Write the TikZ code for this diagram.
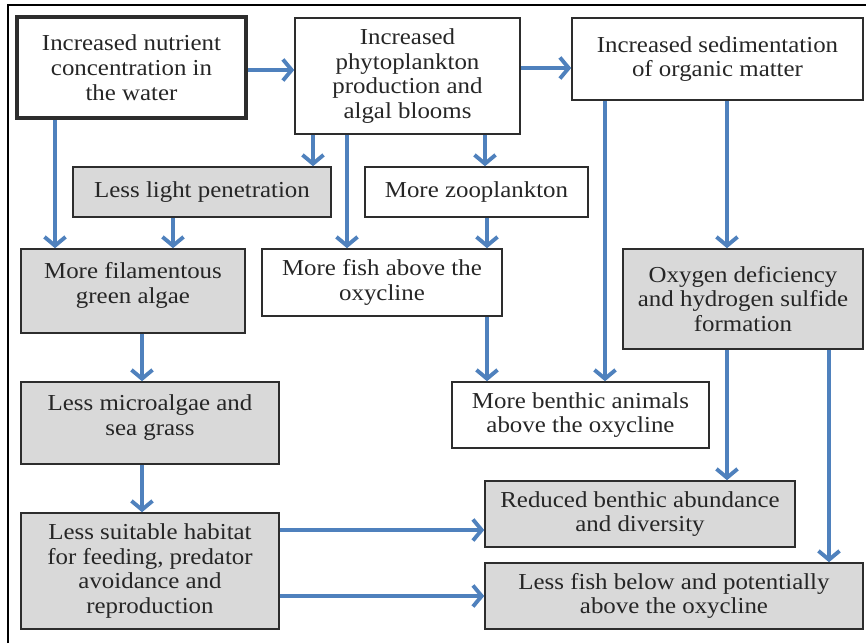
\documentclass[tikz,border=0pt]{standalone}
\usepackage{fontspec}
\setmainfont{Liberation Serif}[FakeStretch=1.09]
\usetikzlibrary{arrows.meta}

\definecolor{arrblue}{RGB}{79,129,189}
\definecolor{boxgray}{RGB}{217,217,217}
\definecolor{edgegray}{RGB}{45,45,45}

\tikzset{
    box/.style={draw=edgegray, line width=0.9pt, align=center, inner sep=2pt,
        font=\fontsize{13}{14.1}\selectfont, text=black!85},
    graybox/.style={box, fill=boxgray},
    arr/.style={draw=arrblue, line width=2.2pt, -{Straight Barb[length=5pt,width=12pt]}}
}

\begin{document}
\begin{tikzpicture}[x=0.02cm,y=-0.02cm]
                \useasboundingbox (0,0) rectangle (866,643);
                \draw[line width=1.4pt] (8,643) -- (8,5) -- (866,5);

                \node[box, line width=2.4pt, minimum width=4.58cm, minimum height=2.02cm] (nutr) at (131.5,67.5) {Increased nutrient\\concentration in\\the water};
                \node[box, minimum width=4.5cm, minimum height=2.32cm] (phyto) at (407.5,76) {Increased\\phytoplankton\\production and\\algal blooms};
                \node[box, minimum width=5.82cm, minimum height=1.64cm] (sedim) at (717.5,59) {Increased sedimentation\\of organic matter};

                \node[graybox, minimum width=5.16cm, minimum height=1cm] (light) at (202,192) {Less light penetration};
                \node[box, minimum width=4.46cm, minimum height=1cm] (zoo) at (476.5,192) {More zooplankton};

                \node[graybox, minimum width=4.48cm, minimum height=1.68cm, text depth=0.32cm] (filam) at (133,291) {More filamentous\\green algae};
                \node[box, minimum width=4.8cm, minimum height=1.34cm] (fish) at (382,282.5) {More fish above the\\oxycline};
                \node[graybox, minimum width=4.8cm, minimum height=2cm] (oxy) at (743,299) {Oxygen deficiency\\and hydrogen sulfide\\formation};

                \node[box, minimum width=5.14cm, minimum height=1.32cm] (benth) at (580.5,415) {More benthic animals\\above the oxycline};
                \node[graybox, minimum width=5.16cm, minimum height=1.64cm, text depth=0.32cm] (micro) at (150,423) {Less microalgae and\\sea grass};

                \node[graybox, minimum width=5.16cm, minimum height=2.32cm] (habit) at (150,571) {Less suitable habitat\\for feeding, predator\\avoidance and\\reproduction};
                \node[graybox, minimum width=6.2cm, minimum height=1.32cm] (reduc) at (640,514) {Reduced benthic abundance\\and diversity};
                \node[graybox, minimum width=7.56cm, minimum height=1.32cm] (lfish) at (674,596) {Less fish below and potentially\\above the oxycline};

                \foreach \a/\b/\x in {nutr/filam/55, phyto/light/313, phyto/fish/347, phyto/zoo/485,
                    light/filam/173, zoo/fish/487, fish/benth/487, sedim/benth/605, sedim/oxy/727,
                    oxy/reduc/727, oxy/lfish/829, filam/micro/142, micro/habit/142}{
                    \draw[arr] (\x,0 |- \a.south) -- (\x,0 |- \b.north);
                }
                \foreach \a/\b/\y in {nutr/phyto/70, phyto/sedim/68, habit/reduc/530, habit/lfish/596}{
                    \draw[arr] (\a.east |- 0,\y) -- (\b.west |- 0,\y);
                }
            \end{tikzpicture}
\end{document}
